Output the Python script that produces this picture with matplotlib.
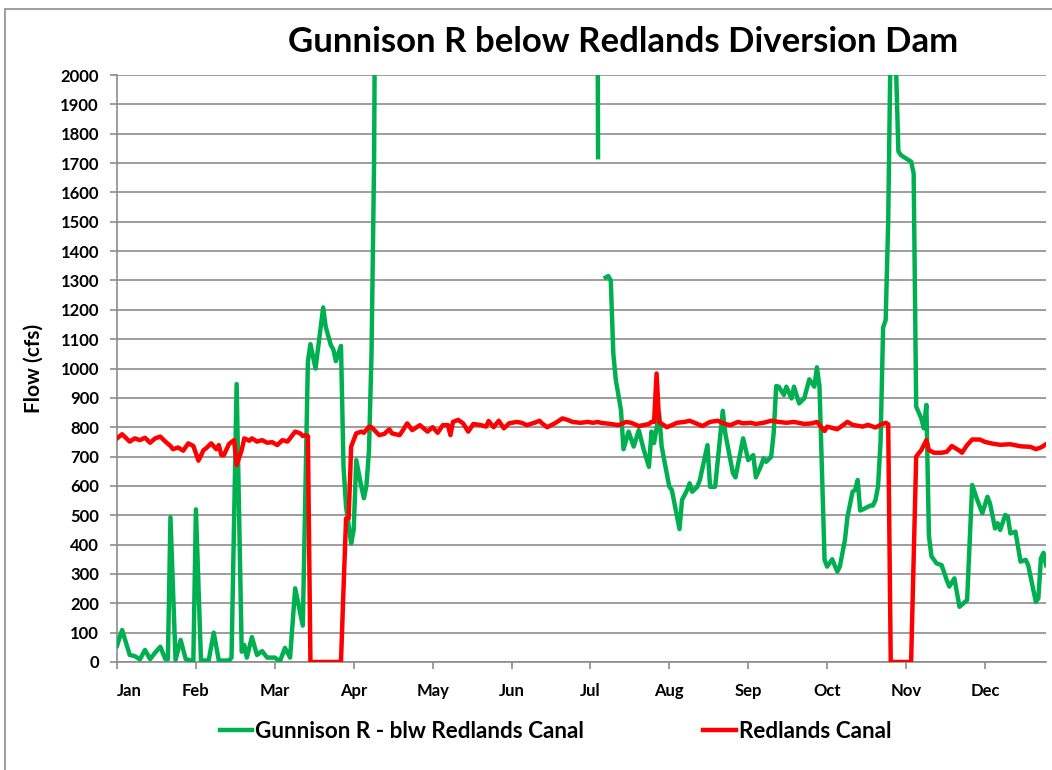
import numpy as np
import matplotlib
matplotlib.use("Agg")
import matplotlib.pyplot as plt
from matplotlib.patches import Rectangle

plt.rcParams['font.family'] = ['Lato', 'DejaVu Sans']
plt.rcParams['font.weight'] = 'bold'

# day of year (0 = Jan 1) and flow in cfs
gun_day = [0, 2, 5, 7, 9, 11, 13, 15, 17, 19, 20, 21, 23, 25, 27, 29, 30, 31, 33, 36,
           38, 40, 44, 45, 47, 49, 50, 51, 53, 55, 57, 59, 62, 64, 66, 68, 70, 72, 73, 75,
           76, 78, 81, 82, 84, 85, 86, 88, 89, 90, 92, 93, 94, 96, 97, 98, 99, 100, 101, 102,
           110, 125, 140, 150, 160, 170, 180, 188, 189, 190,
           192, 193, 194, 195, 196, 198, 199, 201, 203, 205, 207, 209, 210, 211, 213, 214,
           217, 218, 221, 222, 224, 225, 226, 228, 229, 232, 233, 235, 238, 239, 242, 243,
           246, 248, 250, 251, 253, 254, 255, 257, 258, 259, 260, 262, 263, 265, 266, 268,
           270, 272, 274, 275, 276, 278, 279, 281, 283, 284, 286, 287, 289, 290, 291, 292,
           294, 296, 297, 298, 299, 300, 301, 302, 303, 304, 305, 306, 307, 308, 311, 312,
           313, 314, 316, 317, 318, 319, 320, 322, 324, 326, 327, 329, 331, 334, 336, 338,
           340, 342, 343, 345, 346, 347, 349, 350, 351, 353, 355, 357, 358, 361, 362, 363,
           364, 365]
gun_cfs = [55, 109, 24, 20, 9, 41, 10, 32, 52, 10, 10, 493, 7, 75, 10, 5, 5, 520, 5, 5,
           100, 5, 5, 15, 947, 35, 58, 15, 85, 24, 37, 15, 15, 2, 48, 15, 251, 167, 124, 1023,
           1083, 1000, 1208, 1142, 1080, 1065, 1025, 1077, 665, 529, 404, 450, 688, 597, 558, 600, 720, 1050, 1700, 3200,
           4500, 6000, 8500, 10000, 9000, 7000, 5500, 4500, 1720, np.nan,
           1310, 1315, 1300, 1050, 960, 859, 725, 785, 734, 790, 722, 665, 785, 746, 847, 734,
           597, 586, 453, 552, 586, 609, 580, 597, 620, 739, 597, 597, 856, 779, 643, 629,
           762, 688, 705, 629, 668, 694, 682, 699, 779, 940, 938, 910, 938, 898, 938, 881,
           898, 963, 938, 1004, 940, 348, 325, 350, 308, 325, 416, 495, 580, 586, 620, 516,
           524, 533, 533, 552, 597, 750, 1140, 1165, 1500, 2150, 2300, 2050, 1740, 1727, 1710, 1705,
           1665, 870, 830, 796, 876, 430, 360, 336, 330, 279, 257, 285, 188, 211, 603, 552,
           507, 563, 540, 455, 473, 450, 501, 495, 438, 444, 342, 348, 330, 205, 217, 353,
           372, 330]

can_day = [0, 2, 5, 7, 9, 11, 13, 15, 17, 19, 21, 22, 24, 26, 28, 30, 32, 34, 35, 37,
           39, 40, 41, 42, 44, 46, 47, 49, 50, 52, 53, 55, 57, 59, 61, 63, 65, 67, 70, 72,
           73, 74, 75, 76, 88, 89, 90, 91, 92, 94, 96, 97, 99, 100, 103, 105, 107, 108, 111, 112,
           114, 116, 119, 122, 124, 126, 128, 130, 131, 132, 134, 136, 138, 140, 143, 145, 146, 148,
           150, 152, 154, 157, 159, 161, 164, 166, 167, 169, 172, 175, 177, 179, 182, 185, 187, 189,
           190, 194, 197, 200, 202, 205, 209, 210, 211, 212, 213, 216, 218, 220, 223, 225, 228, 230,
           233, 236, 239, 241, 244, 246, 249, 251, 254, 257, 260, 263, 266, 270, 273, 275, 278, 279,
           283, 287, 289, 293, 295, 298, 300, 302, 303, 304, 312, 313, 314, 316, 318, 319, 321, 324,
           326, 328, 331, 332, 334, 336, 339, 341, 344, 347, 351, 355, 359, 361, 363, 365]
can_cfs = [762, 776, 751, 762, 756, 764, 747, 762, 768, 751, 736, 725, 731, 720, 745, 736, 686, 722, 728, 745,
           725, 739, 705, 705, 743, 756, 671, 722, 762, 754, 762, 751, 756, 747, 749, 739, 756, 751, 785, 779,
           770, 773, 770, 0, 0, 250, 489, 489, 734, 779, 785, 781, 802, 800, 773, 777, 793, 779, 773, 785,
           813, 790, 807, 785, 800, 781, 807, 807, 773, 818, 825, 813, 785, 811, 807, 802, 821, 800,
           822, 796, 813, 818, 815, 807, 815, 822, 813, 800, 813, 830, 825, 818, 815, 818, 815, 818,
           815, 811, 807, 818, 815, 804, 811, 818, 818, 983, 818, 800, 807, 815, 818, 822, 811, 804,
           818, 822, 811, 807, 818, 813, 815, 811, 815, 822, 818, 815, 818, 811, 813, 818, 787, 802,
           793, 818, 808, 802, 808, 799, 808, 815, 810, 0, 0, 350, 700, 722, 756, 722, 713, 713,
           716, 736, 720, 713, 739, 758, 758, 750, 744, 740, 742, 735, 733, 725, 731, 742]

months = ['Jan', 'Feb', 'Mar', 'Apr', 'May', 'Jun', 'Jul', 'Aug', 'Sep', 'Oct', 'Nov', 'Dec']
month_ticks = [31 * i for i in range(12)]

grid_col = '#8c8c8c'

fig = plt.figure(figsize=(10.52, 7.70), dpi=100)
ax = fig.add_axes([117 / 1052, 1 - 662 / 770, 929 / 1052, 587 / 770])

ax.plot(gun_day, gun_cfs, color='#00b050', lw=3.2, label='Gunnison R - blw Redlands Canal',
        solid_joinstyle='round', zorder=3)
ax.plot(can_day, can_cfs, color='#ff0000', lw=3.2, label='Redlands Canal',
        solid_joinstyle='round', zorder=4)

ax.set_xlim(0, 365)
ax.set_ylim(0, 2000)
ax.set_yticks(range(0, 2001, 100))
ax.set_xticks(month_ticks)
ax.set_xticklabels(months)
ax.get_xticklabels()[0].set_horizontalalignment('left')

ax.yaxis.grid(True, color=grid_col, lw=1.2)
ax.set_axisbelow(True)
for s in ['top', 'right']:
    ax.spines[s].set_visible(False)
for s in ['left', 'bottom']:
    ax.spines[s].set_color(grid_col)
    ax.spines[s].set_linewidth(1.2)
ax.tick_params(axis='both', colors=grid_col, width=1.2, length=5, labelcolor='black',
               labelsize=12)
ax.tick_params(axis='y', pad=8)
ax.tick_params(axis='x', pad=10)

ax.set_ylabel('Flow (cfs)', fontsize=15, fontweight='bold', labelpad=12)

fig.text(0.592, 0.945, 'Gunnison R below Redlands Diversion Dam', ha='center', va='center',
         fontsize=25, fontweight='bold')

fig.legend(loc='center', bbox_to_anchor=(0.528, 0.05), ncol=2, frameon=False,
           fontsize=16.2, handlelength=1.45, handletextpad=0.12, columnspacing=5.3)

fig.patches.append(Rectangle((5 / 1052, -0.01), 1.01, 1 - 9 / 770 + 0.01, transform=fig.transFigure,
                             fill=False, edgecolor='#8c8c8c', lw=1.2))

fig.savefig('out.png', dpi=100)
